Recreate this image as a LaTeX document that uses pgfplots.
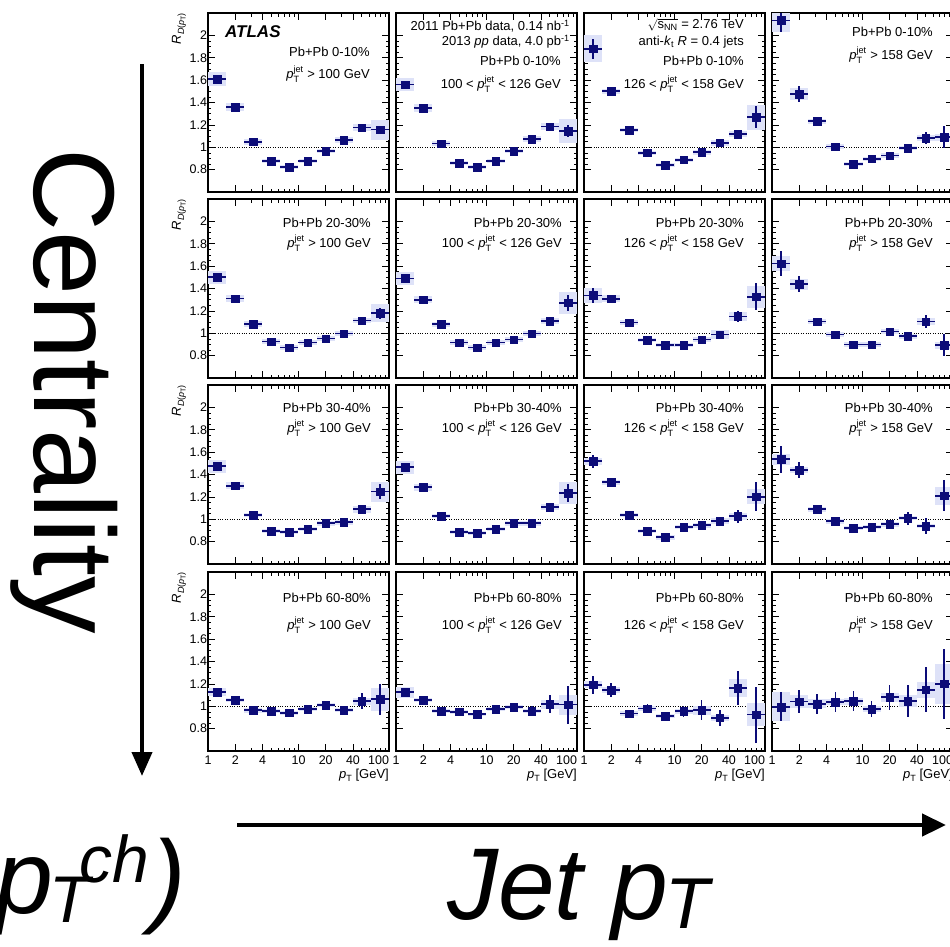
\documentclass[border=0pt]{standalone}
\usepackage{pgfplots}
\pgfplotsset{compat=1.18}
\usepackage{pgfplotstable}
\usepackage{amsmath}
\usepackage{fontspec}
\setmainfont{Liberation Sans}
\usetikzlibrary{arrows.meta}
\definecolor{navy}{RGB}{12,12,120}
\definecolor{boxfill}{RGB}{222,226,248}
\newcommand{\ftxt}{\fontsize{13}{14}\selectfont}
\newcommand{\ftick}{\fontsize{12.5}{13}\selectfont}
\newcommand{\ptjet}{\textit{p}$^{\text{jet}}_{\text{T}}$}
\newcommand{\annot}[3]{\node[anchor=east,font=\ftxt,inner sep=0pt] at ([xshift=-#1pt,yshift=-#2pt]rel axis cs:1,1) {#3};}
\newcommand{\ylab}{\node[rotate=90,anchor=east,font=\ftxt,inner sep=0pt] at ([xshift=-29pt]rel axis cs:0,1) {\textit{R}\raisebox{-0.45ex}{\fontsize{9}{9}\selectfont\textit{D}(\textit{p}\raisebox{-0.35ex}{\fontsize{7}{7}\selectfont T})}};}
\newcommand{\xlab}{\node[anchor=east,font=\ftxt,inner sep=0pt] at ([yshift=-24pt]rel axis cs:1,0) {\textit{p}\raisebox{-0.5ex}{\fontsize{9}{9}\selectfont T} [GeV]};}

\newcommand{\panel}[6]{%
\begin{axis}[
  at={(#1)}, anchor=north west,
  width=181pt, height=179pt, scale only axis,
  clip mode=individual,
  xmode=log, xmin=1, xmax=100, ymin=0.6, ymax=2.2,
  axis line style={line width=1.2pt},
  xtick={1,10,100}, extra x ticks={2,4,20,40},
  minor xtick={2,3,4,5,6,7,8,9,20,30,40,50,60,70,80,90},
  ytick={0.8,1,1.2,1.4,1.6,1.8,2}, minor y tick num=3,
  extra y ticks={1},
  extra y tick style={grid=major},
  major grid style={black, dotted, line width=0.7pt},
  tick align=inside,
  major tick length=7pt, minor tick length=3.5pt,
  xticklabels={#3}, extra x tick labels={#4}, #5, extra y tick labels={},
  xticklabel style={font=\ftick, inner sep=1pt, yshift=-4pt},
  yticklabel style={font=\ftick, inner sep=0.8pt},
  tick style={black, line width=0.6pt},
 ]
\addplot[only marks, mark=none, forget plot, error bars/.cd, y dir=both, y explicit, error mark=none, error bar style={line width=18.1pt, draw=boxfill}] table[x=x, y=y, y error=sy] {#2};
\addplot[only marks, mark=square*, mark size=3.8pt, navy, error bars/.cd, x dir=both, x explicit relative, y dir=both, y explicit, error mark=none, error bar style={line width=1.7pt, draw=navy}] table[x=x, y=y, x error plus expr=0.2589, x error minus expr=0.2057, y error=st] {#2};
#6
\end{axis}}

% Row A: 0-10%
\pgfplotstableread{
x y st sy
1.259 1.610 0.012 0.065
1.995 1.360 0.010 0.040
3.162 1.048 0.008 0.025
5.012 0.878 0.008 0.020
7.943 0.824 0.008 0.020
12.59 0.878 0.008 0.020
19.95 0.967 0.010 0.020
31.62 1.065 0.012 0.025
50.12 1.176 0.015 0.035
79.43 1.158 0.035 0.090
}\tAa
\pgfplotstableread{
x y st sy
1.259 1.560 0.012 0.060
1.995 1.350 0.010 0.035
3.162 1.033 0.008 0.025
5.012 0.860 0.008 0.020
7.943 0.824 0.008 0.020
12.59 0.878 0.008 0.020
19.95 0.967 0.010 0.020
31.62 1.074 0.012 0.025
50.12 1.185 0.020 0.035
79.43 1.146 0.050 0.110
}\tAb
\pgfplotstableread{
x y st sy
1.259 1.880 0.090 0.120
1.995 1.500 0.020 0.025
3.162 1.155 0.012 0.020
5.012 0.950 0.012 0.020
7.943 0.842 0.010 0.020
12.59 0.887 0.010 0.020
19.95 0.955 0.012 0.020
31.62 1.039 0.015 0.025
50.12 1.119 0.030 0.030
79.43 1.268 0.100 0.110
}\tAc
\pgfplotstableread{
x y st sy
1.259 2.134 0.100 0.100
1.995 1.476 0.070 0.050
3.162 1.232 0.020 0.025
5.012 1.006 0.012 0.025
7.943 0.851 0.012 0.020
12.59 0.896 0.012 0.020
19.95 0.926 0.012 0.020
31.62 0.994 0.020 0.020
50.12 1.083 0.050 0.030
79.43 1.089 0.100 0.030
}\tAd
% Row B: 20-30%
\pgfplotstableread{
x y st sy
1.259 1.500 0.015 0.060
1.995 1.310 0.010 0.030
3.162 1.083 0.010 0.025
5.012 0.926 0.010 0.020
7.943 0.872 0.010 0.020
12.59 0.917 0.010 0.020
19.95 0.953 0.010 0.020
31.62 0.997 0.012 0.020
50.12 1.113 0.015 0.025
79.43 1.178 0.050 0.080
}\tBa
\pgfplotstableread{
x y st sy
1.259 1.490 0.015 0.060
1.995 1.300 0.010 0.030
3.162 1.080 0.010 0.020
5.012 0.917 0.010 0.020
7.943 0.872 0.010 0.020
12.59 0.917 0.010 0.020
19.95 0.944 0.012 0.020
31.62 0.997 0.012 0.020
50.12 1.110 0.020 0.025
79.43 1.273 0.070 0.100
}\tBb
\pgfplotstableread{
x y st sy
1.259 1.338 0.070 0.070
1.995 1.309 0.030 0.030
3.162 1.095 0.012 0.025
5.012 0.938 0.012 0.020
7.943 0.893 0.012 0.020
12.59 0.893 0.012 0.020
19.95 0.944 0.015 0.020
31.62 0.988 0.020 0.040
50.12 1.151 0.050 0.040
79.43 1.326 0.120 0.100
}\tBc
\pgfplotstableread{
x y st sy
1.259 1.623 0.110 0.070
1.995 1.439 0.070 0.050
3.162 1.104 0.020 0.020
5.012 0.988 0.020 0.020
7.943 0.899 0.015 0.020
12.59 0.899 0.015 0.020
19.95 1.015 0.030 0.020
31.62 0.973 0.040 0.020
50.12 1.104 0.060 0.030
79.43 0.893 0.100 0.030
}\tBd
% Row C: 30-40%
\pgfplotstableread{
x y st sy
1.259 1.473 0.015 0.060
1.995 1.300 0.010 0.030
3.162 1.036 0.010 0.020
5.012 0.893 0.010 0.020
7.943 0.884 0.010 0.020
12.59 0.911 0.010 0.020
19.95 0.964 0.010 0.020
31.62 0.973 0.012 0.020
50.12 1.089 0.015 0.030
79.43 1.247 0.070 0.090
}\tCa
\pgfplotstableread{
x y st sy
1.259 1.464 0.015 0.060
1.995 1.286 0.012 0.030
3.162 1.027 0.010 0.020
5.012 0.884 0.010 0.020
7.943 0.875 0.010 0.020
12.59 0.911 0.010 0.020
19.95 0.964 0.010 0.020
31.62 0.964 0.012 0.020
50.12 1.110 0.025 0.030
79.43 1.232 0.080 0.100
}\tCb
\pgfplotstableread{
x y st sy
1.259 1.518 0.060 0.030
1.995 1.330 0.030 0.025
3.162 1.036 0.012 0.020
5.012 0.893 0.012 0.020
7.943 0.839 0.012 0.020
12.59 0.929 0.012 0.020
19.95 0.946 0.015 0.020
31.62 0.985 0.025 0.030
50.12 1.027 0.060 0.030
79.43 1.202 0.130 0.070
}\tCc
\pgfplotstableread{
x y st sy
1.259 1.536 0.120 0.050
1.995 1.440 0.070 0.030
3.162 1.089 0.030 0.020
5.012 0.982 0.020 0.020
7.943 0.920 0.015 0.020
12.59 0.929 0.020 0.020
19.95 0.955 0.040 0.020
31.62 1.009 0.060 0.020
50.12 0.938 0.070 0.020
79.43 1.211 0.140 0.080
}\tCd
% Row D: 60-80%
\pgfplotstableread{
x y st sy
1.259 1.125 0.020 0.035
1.995 1.056 0.010 0.020
3.162 0.964 0.010 0.020
5.012 0.958 0.010 0.015
7.943 0.941 0.010 0.015
12.59 0.976 0.010 0.015
19.95 1.009 0.015 0.020
31.62 0.967 0.030 0.020
50.12 1.045 0.070 0.030
79.43 1.062 0.140 0.100
}\tDa
\pgfplotstableread{
x y st sy
1.259 1.125 0.020 0.050
1.995 1.056 0.010 0.020
3.162 0.958 0.010 0.020
5.012 0.950 0.010 0.015
7.943 0.929 0.010 0.015
12.59 0.976 0.012 0.015
19.95 0.994 0.020 0.020
31.62 0.958 0.040 0.020
50.12 1.018 0.080 0.040
79.43 1.015 0.170 0.090
}\tDb
\pgfplotstableread{
x y st sy
1.259 1.193 0.080 0.030
1.995 1.145 0.060 0.030
3.162 0.935 0.030 0.020
5.012 0.979 0.040 0.020
7.943 0.911 0.040 0.020
12.59 0.955 0.050 0.020
19.95 0.964 0.090 0.040
31.62 0.896 0.070 0.030
50.12 1.163 0.150 0.080
79.43 0.926 0.250 0.100
}\tDc
\pgfplotstableread{
x y st sy
1.259 0.994 0.130 0.130
1.995 1.042 0.100 0.060
3.162 1.021 0.090 0.040
5.012 1.039 0.090 0.030
7.943 1.045 0.090 0.030
12.59 0.976 0.070 0.030
19.95 1.080 0.110 0.040
31.62 1.047 0.140 0.050
50.12 1.148 0.200 0.070
79.43 1.200 0.310 0.180
}\tDd

\begin{document}
\begin{tikzpicture}
% Row A
\panel{208pt,-13pt}{\tAa}{}{}{yticklabels={0.8,1,1.2,1.4,1.6,1.8,2}}{%
 \node[anchor=west,font=\fontsize{17}{17}\selectfont\bfseries\itshape,inner sep=0pt] at ([xshift=17pt,yshift=-19pt]rel axis cs:0,1) {ATLAS};
 \annot{19}{39}{Pb+Pb 0-10\%}
 \annot{19}{61}{\ptjet{} > 100 GeV}
 \ylab}
\panel{396pt,-13pt}{\tAb}{}{}{yticklabels={}}{%
 \annot{7}{13}{2011 Pb+Pb data, 0.14 nb$^{\text{-1}}$}
 \annot{7}{29}{2013 \textit{pp} data, 4.0 pb$^{\text{-1}}$}
 \annot{16}{48}{Pb+Pb 0-10\%}
 \annot{16}{71}{100 < \ptjet{} < 126 GeV}}
\panel{584pt,-13pt}{\tAc}{}{}{yticklabels={}}{%
 \annot{21}{12}{$\sqrt{\text{s}_{\text{NN}}}$ = 2.76 TeV}
 \annot{21}{29}{anti-\textit{k}$_{\text{t}}$ \textit{R} = 0.4 jets}
 \annot{21}{48}{Pb+Pb 0-10\%}
 \annot{21}{71}{126 < \ptjet{} < 158 GeV}}
\panel{772pt,-13pt}{\tAd}{}{}{yticklabels={}}{%
 \annot{20}{19}{Pb+Pb 0-10\%}
 \annot{20}{42}{\ptjet{} > 158 GeV}}
% Row B
\panel{208pt,-199pt}{\tBa}{}{}{yticklabels={0.8,1,1.2,1.4,1.6,1.8,2}}{%
 \annot{18}{24}{Pb+Pb 20-30\%}
 \annot{18}{44}{\ptjet{} > 100 GeV}
 \ylab}
\panel{396pt,-199pt}{\tBb}{}{}{yticklabels={}}{%
 \annot{15}{24}{Pb+Pb 20-30\%}
 \annot{15}{44}{100 < \ptjet{} < 126 GeV}}
\panel{584pt,-199pt}{\tBc}{}{}{yticklabels={}}{%
 \annot{21}{24}{Pb+Pb 20-30\%}
 \annot{21}{44}{126 < \ptjet{} < 158 GeV}}
\panel{772pt,-199pt}{\tBd}{}{}{yticklabels={}}{%
 \annot{20}{24}{Pb+Pb 20-30\%}
 \annot{20}{44}{\ptjet{} > 158 GeV}}
% Row C
\panel{208pt,-385pt}{\tCa}{}{}{yticklabels={0.8,1,1.2,1.4,1.6,1.8,2}}{%
 \annot{18}{23}{Pb+Pb 30-40\%}
 \annot{18}{43}{\ptjet{} > 100 GeV}
 \ylab}
\panel{396pt,-385pt}{\tCb}{}{}{yticklabels={}}{%
 \annot{15}{23}{Pb+Pb 30-40\%}
 \annot{15}{43}{100 < \ptjet{} < 126 GeV}}
\panel{584pt,-385pt}{\tCc}{}{}{yticklabels={}}{%
 \annot{21}{23}{Pb+Pb 30-40\%}
 \annot{21}{43}{126 < \ptjet{} < 158 GeV}}
\panel{772pt,-385pt}{\tCd}{}{}{yticklabels={}}{%
 \annot{20}{23}{Pb+Pb 30-40\%}
 \annot{20}{43}{\ptjet{} > 158 GeV}}
% Row D
\panel{208pt,-572pt}{\tDa}{1,10,\llap{100}}{2,4,20,40}{yticklabels={0.8,1,1.2,1.4,1.6,1.8,2}}{%
 \annot{18}{26}{Pb+Pb 60-80\%}
 \annot{18}{53}{\ptjet{} > 100 GeV}
 \ylab \xlab}
\panel{396pt,-572pt}{\tDb}{1,10,\llap{100}}{2,4,20,40}{yticklabels={}}{%
 \annot{15}{26}{Pb+Pb 60-80\%}
 \annot{15}{53}{100 < \ptjet{} < 126 GeV}
 \xlab}
\panel{584pt,-572pt}{\tDc}{1,10,\llap{100}}{2,4,20,40}{yticklabels={}}{%
 \annot{21}{26}{Pb+Pb 60-80\%}
 \annot{21}{53}{126 < \ptjet{} < 158 GeV}
 \xlab}
\panel{772pt,-572pt}{\tDd}{1,10,\llap{100}}{2,4,20,40}{yticklabels={}}{%
 \annot{20}{26}{Pb+Pb 60-80\%}
 \annot{20}{53}{\ptjet{} > 158 GeV}
 \xlab}
% big annotations
\node[rotate=-90,anchor=base,font=\fontsize{115}{115}\selectfont,inner sep=0pt] at (34pt,-391pt) {Centrality};
\draw[line width=4pt,-{Triangle[length=24pt,width=20pt]}] (142pt,-64pt) -- (142pt,-776pt);
\draw[line width=4.5pt,-{Triangle[length=24pt,width=22pt]}] (237pt,-825pt) -- (946pt,-825pt);
\node[anchor=base west,font=\fontsize{102}{102}\selectfont\itshape,inner sep=0pt] at (447pt,-919pt) {Jet p\kern-3pt\raisebox{-9pt}{\fontsize{72}{72}\selectfont T}};
\node[anchor=base east,font=\fontsize{104}{104}\selectfont\itshape,inner sep=0pt] at (186pt,-913pt) {D(\kern8pt p\kern-4pt\raisebox{-9pt}{\fontsize{66}{66}\selectfont T}\kern-10pt\raisebox{31pt}{\fontsize{66}{66}\selectfont ch}\kern2pt)};
\pgfresetboundingbox
\path[use as bounding box] (0pt,0pt) rectangle (950pt,-946pt);
\end{tikzpicture}
\end{document}
